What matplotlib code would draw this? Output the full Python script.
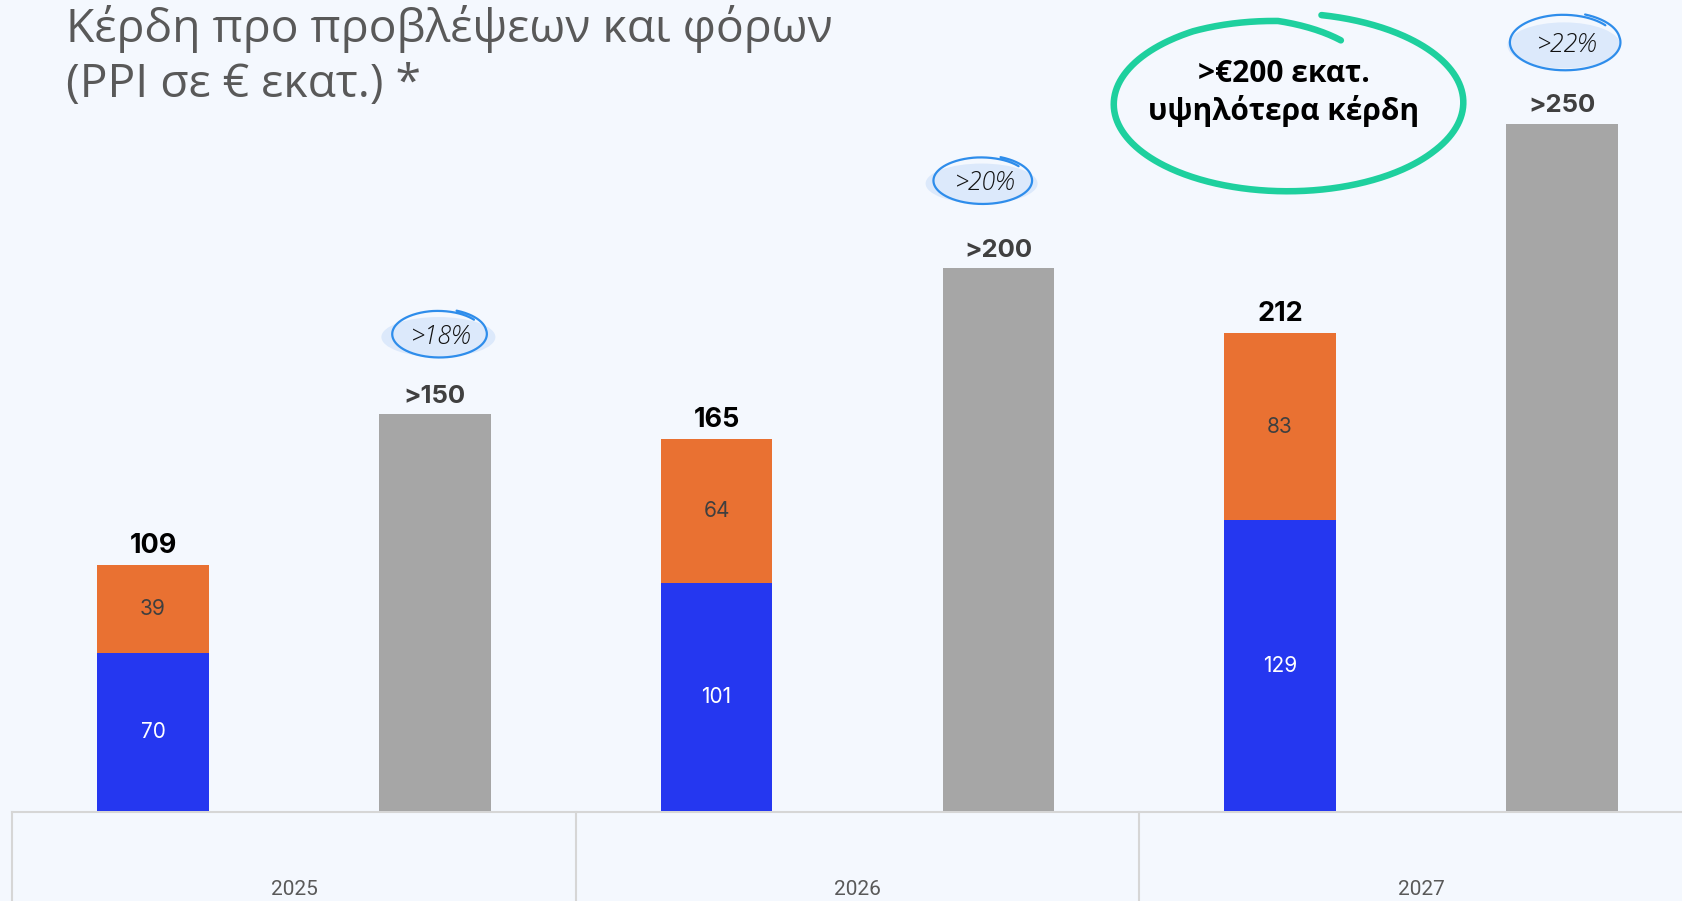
import numpy as np
import matplotlib.pyplot as plt
from matplotlib.patches import Ellipse

# ---------------- data ----------------
years = ['2025', '2026', '2027']
pre_tax_core = [70, 101, 129]        # blue segment
pre_tax_extra = [39, 64, 83]         # orange segment
actual_totals = [109, 165, 212]
target_values = [176, 241, 305]      # grey bar heights
target_labels = ['>150', '>200', '>250']
growth_labels = ['>18%', '>20%', '>22%']
title_lines = ['Κέρδη προ προβλέψεων και φόρων', '(PPI σε € εκατ.) *']
callout_lines = ['>€200 εκατ.', 'υψηλότερα κέρδη']

# ---------------- style ----------------
W, H = 1683, 901
BG = '#F4F8FE'
BLUE = '#2537F0'
ORANGE = '#E97132'
GREY = '#A6A6A6'
GREEN = '#1ED09E'
BUB_LINE = '#2E8DEB'
BUB_FILL = '#DCE9FB'

fig = plt.figure(figsize=(W / 100, H / 100), dpi=100)
fig.patch.set_facecolor(BG)

base_px = 811          # baseline, pixels from top
ppu = 2.254            # pixels per value unit
cat_px = 563.5         # pixels per category
cx0 = 294              # pixel x of first category centre

ax = fig.add_axes([0, (H - base_px) / H, 1, base_px / H])
ax.set_facecolor(BG)
ax.set_xlim((0 - cx0) / cat_px, (W - cx0) / cat_px)
ax.set_ylim(0, base_px / ppu)
for s in ax.spines.values():
    s.set_visible(False)

x = np.arange(len(years))
bw = 0.198
xa = x - 0.25
xf = x + 0.25

ax.bar(xa, pre_tax_core, width=bw, color=BLUE, zorder=2)
ax.bar(xa, pre_tax_extra, width=bw, bottom=pre_tax_core, color=ORANGE, zorder=2)
ax.bar(xf, target_values, width=bw, color=GREY, zorder=2)

for xi, b, o, t in zip(xa, pre_tax_core, pre_tax_extra, actual_totals):
    ax.text(xi, b / 2, str(b), ha='center', va='center', color='white',
            fontsize=15, family='Inter', zorder=3)
    ax.text(xi, b + o / 2, str(o), ha='center', va='center', color='#3F3F3F',
            fontsize=15, family='Inter', zorder=3)
    ax.annotate(str(t), (xi, t), xytext=(0, 9), textcoords='offset points',
                ha='center', va='baseline', fontsize=19.5, fontweight='bold',
                family='Inter', color='#000000')

for xi, v, lab in zip(xf, target_values, target_labels):
    ax.annotate(lab, (xi, v), xytext=(0, 8), textcoords='offset points',
                ha='center', va='baseline', fontsize=18.5, fontweight='bold',
                family='Inter', color='#404040')

# x axis: year labels in boxes
ax.set_xticks(x)
ax.set_xticklabels(years, family='Roboto', fontsize=15, color='#595959')
ax.tick_params(axis='x', length=0, pad=50)
ax.tick_params(axis='y', left=False, labelleft=False)
yline = -1 / ppu
ax.plot([-0.5, ax.get_xlim()[1]], [yline, yline], color='#D6D6D6', lw=1.5,
        clip_on=False, zorder=1)
for xb in [-0.5, 0.5, 1.5]:
    ax.plot([xb, xb], [yline, -200], color='#D6D6D6', lw=1.5, clip_on=False, zorder=1)


def hand_loop(cx, cy, a, b, th0, th1, t_knots, r_knots, **kw):
    t = np.linspace(0, 1, 500)
    th = np.radians(th0 + (th1 - th0) * t)
    r = np.interp(t, t_knots, r_knots)
    ax.plot(cx + a * r * np.cos(th), cy + b * r * np.sin(th),
            solid_capstyle='round', clip_on=False, **kw)


# growth bubbles
bub_dx = [0.008, -0.028, 0.0055]
bub_dy = [35.6, 38.7, 36.0]
bub_w = [95, 99, 111]
bub_h = [47, 47, 56]
fill_w = [114, 112, 113]
fill_h = [40, 40, 46]
for xi, v, lab, dx, dy, w, h, fw, fh in zip(xf, target_values, growth_labels,
                                            bub_dx, bub_dy, bub_w, bub_h, fill_w, fill_h):
    cx, cy = xi + dx, v + dy
    ax.add_patch(Ellipse((cx - 1 / cat_px, cy - 3 / ppu), fw / cat_px, fh / ppu,
                         facecolor=BUB_FILL, edgecolor='none', zorder=4, clip_on=False))
    hand_loop(cx, cy, w / 2 / cat_px, h / 2 / ppu, 70, 70 - 390,
              [0, 0.15, 0.85, 1.0], [1.06, 1.0, 0.99, 0.95],
              color=BUB_LINE, lw=1.6, zorder=5)
    ax.text(cx + 2 / cat_px, cy - 3 / ppu, lab, ha='center', va='center', fontsize=18,
            family='Open Sans', style='italic', fontweight='light',
            color='#111111', zorder=6)

# green callout
gcx = (1287 - cx0) / cat_px
gcy = (base_px - 104) / ppu
hand_loop(gcx, gcy, 174.5 / cat_px, 87.5 / ppu, 79, -293,
          [0, 0.3, 0.85, 0.93, 1.0], [1.035, 1.0, 0.99, 0.95, 0.79],
          color=GREEN, lw=4.7, zorder=5)
for line, ypx in zip(callout_lines, [73.5, 111]):
    ax.text((1284 - cx0) / cat_px, (base_px - ypx) / ppu, line,
            ha='center', va='center', fontsize=21.5, fontweight='bold',
            family=['Open Sans', 'DejaVu Sans'], color='#000000', zorder=6)

# title
for line, ypx in zip(title_lines, [29, 85]):
    fig.text(66 / W, 1 - ypx / H, line, ha='left', va='center',
             fontsize=33.3, family='Open Sans', color='#595959')

fig.savefig('out.png', dpi=100, facecolor=BG)
